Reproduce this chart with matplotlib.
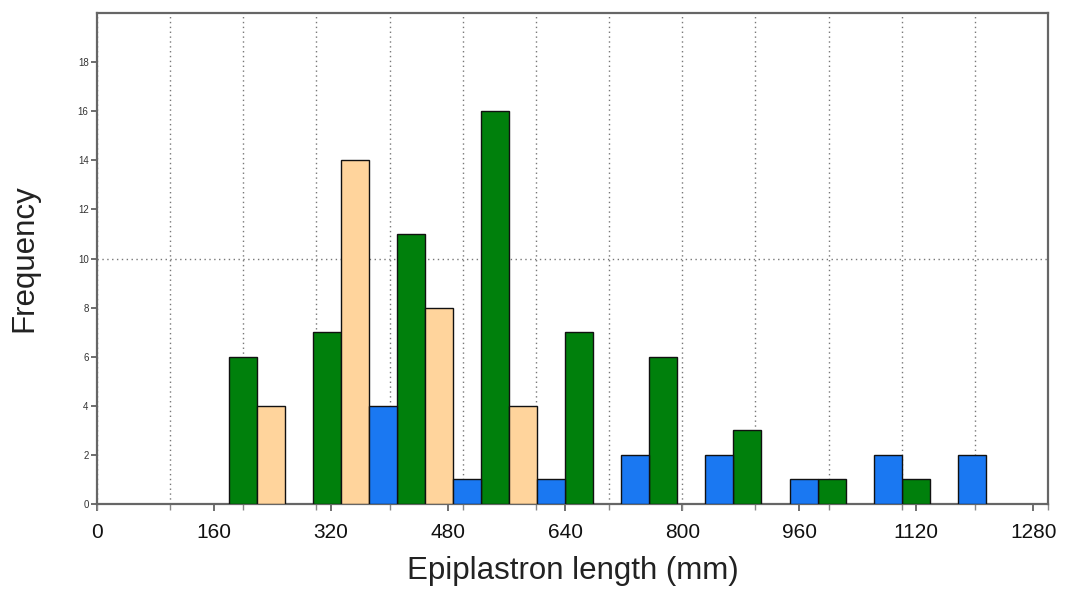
import matplotlib
matplotlib.use("Agg")
import matplotlib.pyplot as plt
from matplotlib.ticker import MultipleLocator
import numpy as np

plt.rcParams['font.family'] = ['Liberation Sans', 'DejaVu Sans']

# Bin starts (mm) and counts for three series
bin_starts = [180, 295, 410, 525, 640, 755, 870, 985, 1100]
green_counts = [6, 7, 11, 16, 7, 6, 3, 1, 1]
peach_counts = [4, 14, 8, 4, 0, 0, 0, 0, 0]
blue_counts = [0, 4, 1, 1, 2, 2, 1, 2, 2]
x_ticks = [0, 160, 320, 480, 640, 800, 960, 1120, 1280]
y_ticks = [0, 2, 4, 6, 8, 10, 12, 14, 16, 18]

group_w = 115
bw = group_w / 3

fig = plt.figure(figsize=(10.74, 5.91), dpi=100)
ax = fig.add_axes([0.0903, 0.1472, 0.8855, 0.8308])

starts = np.array(bin_starts, dtype=float)
series = [(green_counts, '#00800C', 0), (peach_counts, '#FFD49C', 1), (blue_counts, '#1A78F2', 2)]
for vals, col, k in series:
    v = np.array(vals)
    m = v > 0
    ax.bar(starts[m] + k * bw, v[m], width=bw, align='edge', color=col,
           edgecolor='#111111', linewidth=1.0, zorder=3)

ax.set_xlim(0, 1300)
ax.set_ylim(0, 20)
ax.set_xticks(x_ticks)
ax.set_xticklabels([str(t) for t in x_ticks], fontsize=15, color='#111111')
ax.xaxis.set_minor_locator(MultipleLocator(100))
ax.xaxis.remove_overlapping_locs = False
ax.set_yticks(y_ticks)
ax.set_yticklabels([str(t) for t in y_ticks], fontsize=7, color='#333333')

ax.grid(which='minor', axis='x', linestyle=(0, (1, 2.5)), color='#777777', linewidth=1.0, zorder=1)
ax.axhline(10, linestyle=(0, (1, 2.5)), color='#777777', linewidth=1.0, zorder=1)

ax.tick_params(axis='x', which='major', length=5, width=1.2, color='#555555', pad=9)
ax.tick_params(axis='x', which='minor', length=4, width=1.0, color='#888888')
ax.tick_params(axis='y', which='major', length=4, width=1.2, color='#555555', pad=2)

for s in ax.spines.values():
    s.set_color('#666666')
    s.set_linewidth(1.6)

ax.set_xlabel('Epiplastron length (mm)', fontsize=22.5, color='#222222', labelpad=10)
ax.set_ylabel('Frequency', fontsize=22.5, color='#222222', labelpad=28)

fig.savefig('out.png', dpi=100)
